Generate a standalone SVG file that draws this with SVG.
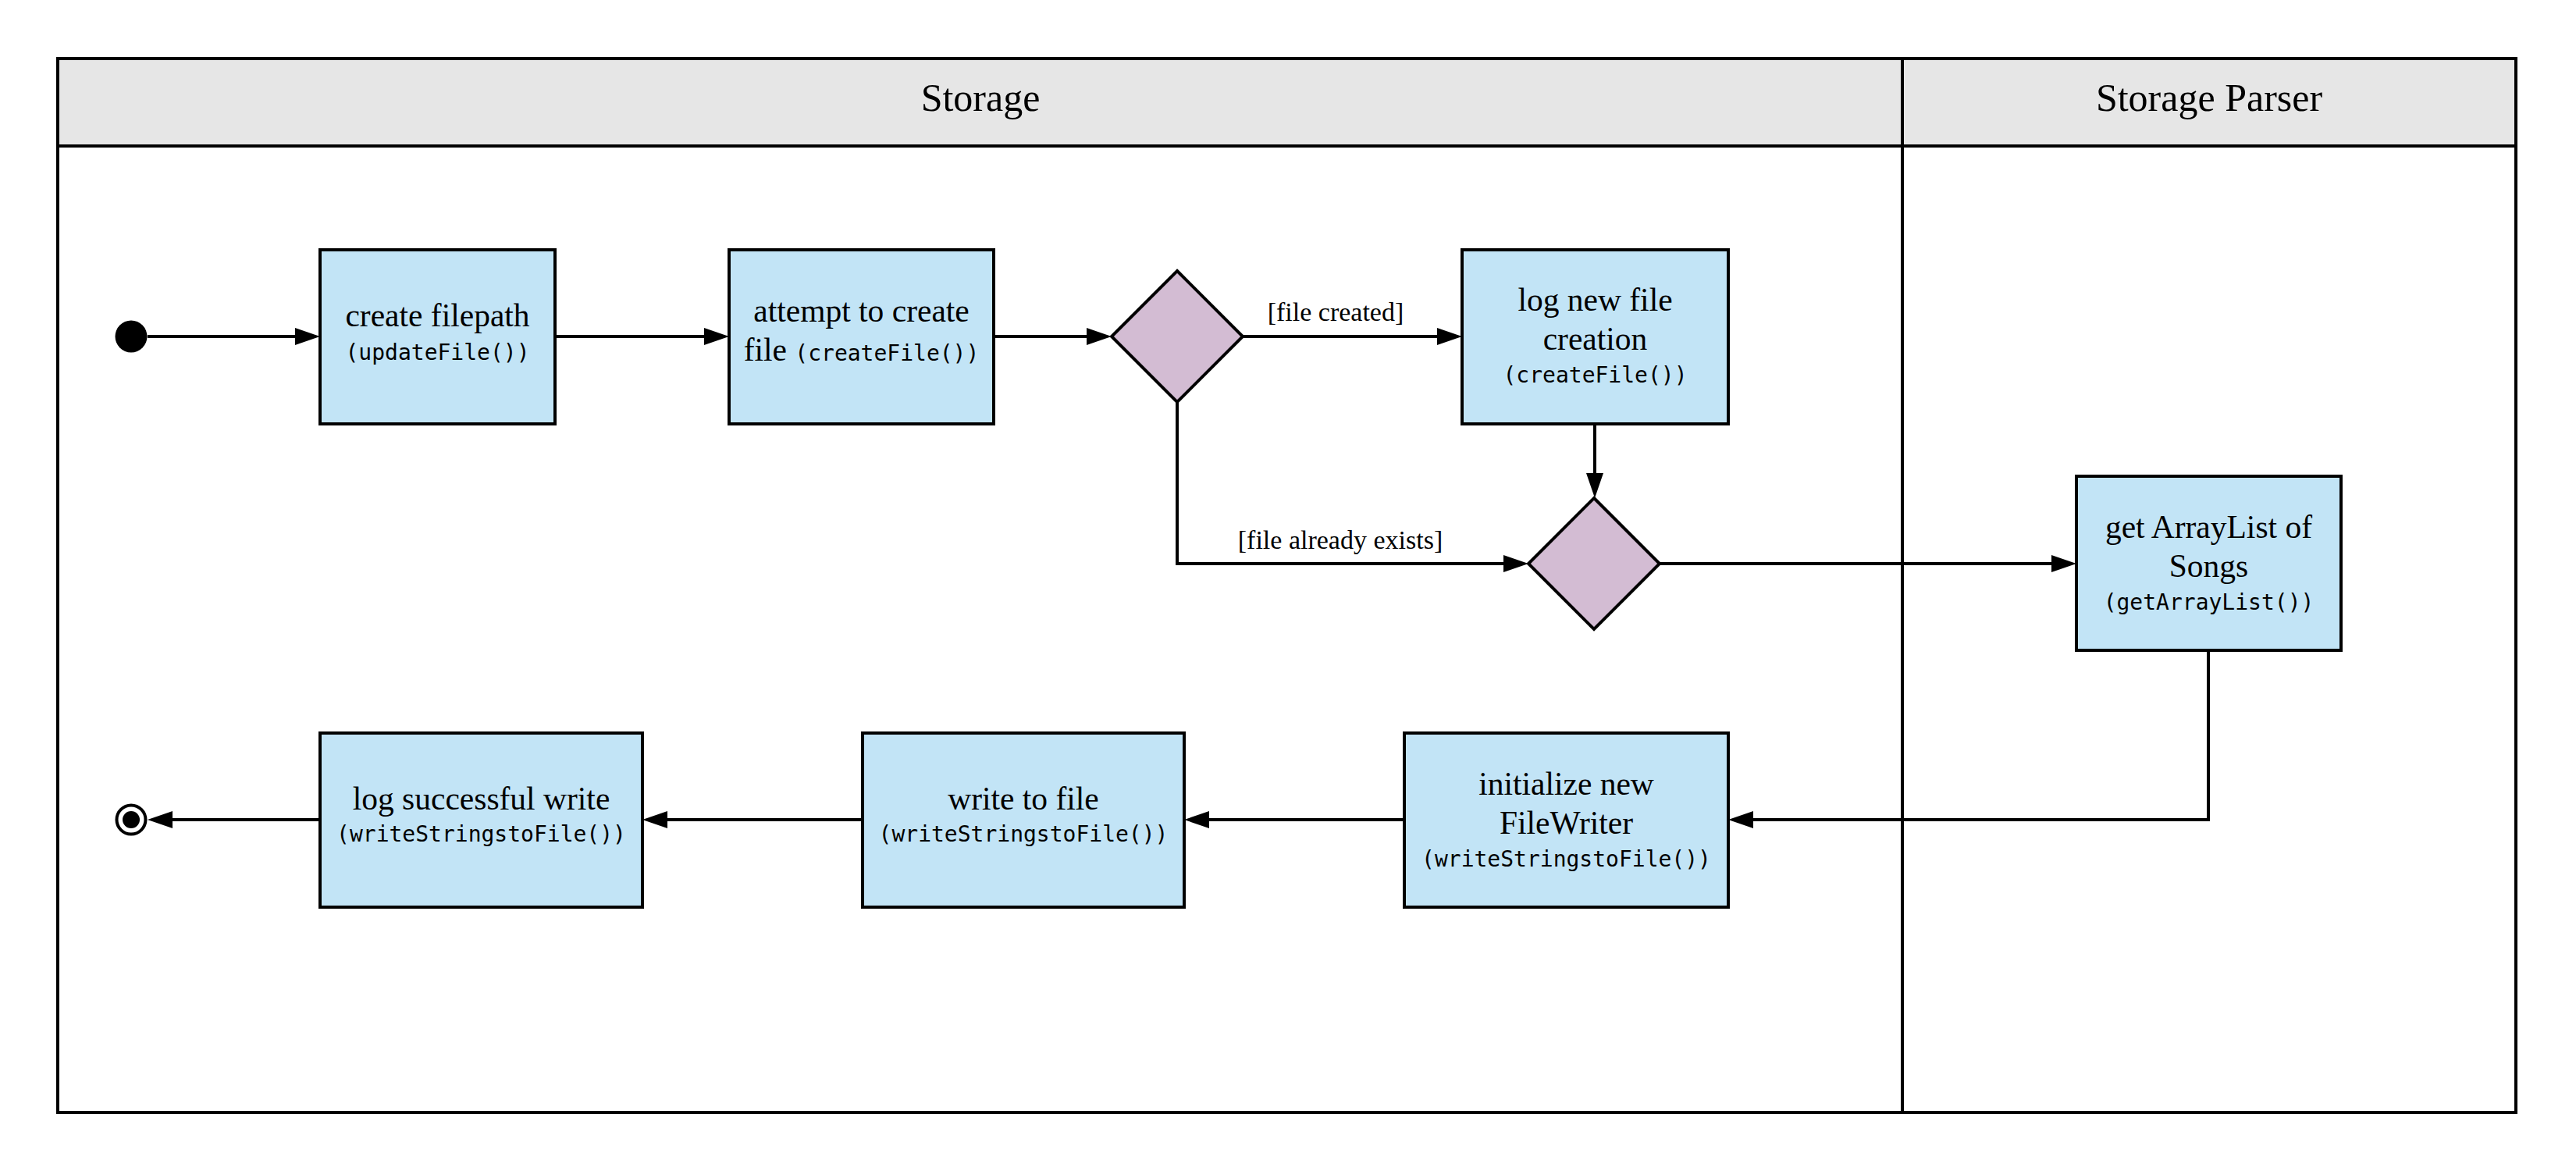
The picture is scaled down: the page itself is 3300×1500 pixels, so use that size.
<svg xmlns="http://www.w3.org/2000/svg" width="3300" height="1500" viewBox="0 0 3300 1500">
  <style>
    .lane { fill: none; stroke: #000; stroke-width: 4; }
    .head { fill: #e6e6e6; stroke: #000; stroke-width: 4; }
    .title { font-family: "Liberation Serif", "Times New Roman", serif; font-size: 50px; fill: #000; text-anchor: middle; }
    .act { fill: #c2e4f6; stroke: #000; stroke-width: 4; }
    .dec { fill: #d3bcd3; stroke: #000; stroke-width: 4; stroke-linejoin: miter; }
    .t { font-family: "Liberation Serif", "Times New Roman", serif; font-size: 41.5px; fill: #000; text-anchor: middle; }
    .m { font-family: "DejaVu Sans Mono", "Liberation Mono", monospace; font-size: 28px; fill: #000; }
    .mc { font-family: "DejaVu Sans Mono", "Liberation Mono", monospace; font-size: 28px; fill: #000; text-anchor: middle; }
    .lbl { font-family: "Liberation Serif", "Times New Roman", serif; font-size: 34px; fill: #000; text-anchor: middle; }
    .edge { fill: none; stroke: #000; stroke-width: 4; marker-end: url(#arrow); }
  </style>
  <defs>
    <marker id="arrow" markerUnits="userSpaceOnUse" markerWidth="32" markerHeight="22" viewBox="0 0 32 22" refX="16" refY="11" orient="auto">
      <path d="M0,0 L32,11 L0,22 z" fill="#000"/>
    </marker>
  </defs>

  <rect width="3300" height="1500" fill="#fff"/>

  <!-- swimlanes -->
  <g id="lanes">
    <rect class="head" x="74" y="75" width="3149" height="112"/>
    <rect class="lane" x="74" y="75" width="3149" height="1350"/>
    <line class="lane" x1="2437" y1="75" x2="2437" y2="1425"/>
    <text class="title" x="1256" y="142">Storage</text>
    <text class="title" x="2830" y="142">Storage Parser</text>
  </g>

  <!-- connectors -->
  <g id="connectors">
    <path class="edge" d="M189,431 H394"/>
    <path class="edge" d="M711,431 H918"/>
    <path class="edge" d="M1273,431 H1408"/>
    <path class="edge" d="M1592,431 H1857"/>
    <path class="edge" d="M2043,543 V622"/>
    <path class="edge" d="M1508,515 V722 H1942"/>
    <path class="edge" d="M2126,722 H2644"/>
    <path class="edge" d="M2829,833 V1050 H2230"/>
    <path class="edge" d="M1799,1050 H1533"/>
    <path class="edge" d="M1105,1050 H839"/>
    <path class="edge" d="M410,1050 H205"/>
    <text class="lbl" x="1711" y="411">[file created]</text>
    <text class="lbl" x="1717" y="703">[file already exists]</text>
  </g>

  <!-- initial node -->
  <g id="start">
    <circle cx="168" cy="431" r="20.5" fill="#000"/>
  </g>

  <g id="create-filepath">
    <rect class="act" x="410" y="320" width="301" height="223"/>
    <text class="t" x="560.5" y="418">create filepath</text>
    <text class="mc" x="560.5" y="461">(updateFile())</text>
  </g>

  <g id="attempt-create">
    <rect class="act" x="934" y="320" width="339" height="223"/>
    <text class="t" x="1103.5" y="412">attempt to create</text>
    <text class="t" x="1103.5" y="462">file <tspan class="m">(createFile())</tspan></text>
  </g>

  <g id="decision-created">
    <polygon class="dec" points="1508,347 1592,431 1508,515 1424,431"/>
  </g>

  <g id="log-new-file">
    <rect class="act" x="1873" y="320" width="341" height="223"/>
    <text class="t" x="2043.5" y="398">log new file</text>
    <text class="t" x="2043.5" y="448">creation</text>
    <text class="mc" x="2043.5" y="490">(createFile())</text>
  </g>

  <g id="decision-merge">
    <polygon class="dec" points="2042,638 2126,722 2042,806 1958,722"/>
  </g>

  <g id="get-arraylist">
    <rect class="act" x="2660" y="610" width="339" height="223"/>
    <text class="t" x="2829.5" y="689">get ArrayList of</text>
    <text class="t" x="2829.5" y="739">Songs</text>
    <text class="mc" x="2829.5" y="781">(getArrayList())</text>
  </g>

  <g id="init-filewriter">
    <rect class="act" x="1799" y="939" width="415" height="223"/>
    <text class="t" x="2006.5" y="1018">initialize new</text>
    <text class="t" x="2006.5" y="1068">FileWriter</text>
    <text class="mc" x="2006.5" y="1110">(writeStringstoFile())</text>
  </g>

  <g id="write-file">
    <rect class="act" x="1105" y="939" width="412" height="223"/>
    <text class="t" x="1311" y="1037">write to file</text>
    <text class="mc" x="1311" y="1078">(writeStringstoFile())</text>
  </g>

  <g id="log-success">
    <rect class="act" x="410" y="939" width="413" height="223"/>
    <text class="t" x="616.5" y="1037">log successful write</text>
    <text class="mc" x="616.5" y="1078">(writeStringstoFile())</text>
  </g>

  <!-- final node -->
  <g id="end">
    <circle cx="168" cy="1050" r="18.5" fill="#fff" stroke="#000" stroke-width="4"/>
    <circle cx="168" cy="1050" r="11" fill="#000"/>
  </g>
</svg>
